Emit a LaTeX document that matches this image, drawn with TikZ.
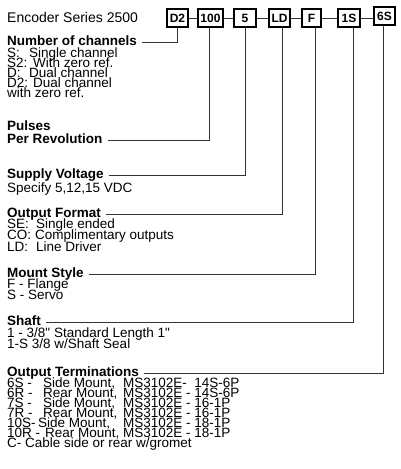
\documentclass[tikz,border=0pt]{standalone}
\usepackage{fontspec}
\setmainfont{Liberation Sans}[Ligatures=TeXOff]
\begin{document}
\begin{tikzpicture}
      [x=1pt,y=-1pt,
      code/.style={draw,line width=1.1pt,inner sep=0pt,minimum height=18pt,
        font=\fontsize{12}{12}\selectfont\bfseries},
      head/.style={anchor=base west,inner sep=0pt,text height=8.5pt,text depth=1pt,
        font=\fontsize{13.5}{13.5}\selectfont\bfseries},
      body/.style={anchor=base west,inner sep=0pt,text height=8pt,text depth=1pt,
        font=\fontsize{13.5}{13.5}\selectfont},
      link/.style={line width=0.8pt,black!80}]
      \useasboundingbox (0,0) rectangle (400,469);
      \node[body,font=\fontsize{14}{14}\selectfont] (title) at (7,22) {Encoder Series 2500};
      % order code boxes
      \node[code,minimum width=21pt] (d2) at (177.5,18) {D2};
      \node[code,minimum width=25pt] (ppr) at (210.5,18) {100};
      \node[code,minimum width=22pt] (volt) at (245,18) {5};
      \node[code,minimum width=21pt] (fmt) at (279.5,18) {LD};
      \node[code,minimum width=19pt] (mnt) at (311.5,18) {F};
      \node[code,minimum width=22pt] (shaft) at (349,18) {1S};
      \node[code,minimum width=21pt] (term) at (384.5,16) {6S};
      \draw[link] (d2) -- (ppr);
      \draw[link] (ppr) -- (volt);
      \draw[link] (volt) -- (fmt);
      \draw[link] (fmt) -- (mnt);
      \draw[link] (mnt) -- (shaft);
      \draw[link] (shaft.east) -- (shaft.east -| term.west);
      % headings
      \node[head] (chan) at (7,45) {Number of channels};
      \node[head] (pulses) at (7,130) {Pulses};
      \node[head] (rev) at (7,143) {Per Revolution};
      \node[head] (supply) at (7,178) {Supply Voltage};
      \node[head] (output) at (7,217) {Output Format};
      \node[head] (mount) at (7,277) {Mount Style};
      \node[head] (shafthd) at (7,325) {Shaft};
      \node[head] (termhd) at (7,376) {Output Terminations};
      % option lists
      \foreach \txt [count=\i] in {{\makebox[22pt][l]{S:}Single channel},
        {\makebox[26pt][l]{S2:}With zero ref.},
        {\makebox[22pt][l]{D:}Dual channel},
        {\makebox[26pt][l]{D2:}Dual channel},
        {with zero ref.}}
        \node[body] (chan-\i) at (7,47+10*\i) {\txt};
      \node[body] (supply-1) at (7,192) {Specify 5,12,15 VDC};
      \foreach \txt [count=\i] in {{\makebox[29pt][l]{SE:}Single ended},
        {\makebox[28pt][l]{CO:}Complimentary outputs},
        {\makebox[29pt][l]{LD:}Line Driver}}
        \node[body] (output-\i) at (7,216.5+11.5*\i) {\txt};
      \foreach \txt [count=\i] in {{F - Flange},{S - Servo}}
        \node[body] (mount-\i) at (7,277+11*\i) {\txt};
      \foreach \txt [count=\i] in {{1 - 3/8" Standard Length 1"},
        {1-S 3/8 w/Shaft Seal}}
        \node[body] (shaft-\i) at (7,326+11*\i) {\txt};
      \foreach \txt [count=\i] in {
        {\makebox[36pt][l]{6S -}\makebox[80pt][l]{Side Mount,}MS3102E-\ \ 14S-6P},
        {\makebox[36pt][l]{6R -}\makebox[80pt][l]{Rear Mount,}MS3102E - 14S-6P},
        {\makebox[36pt][l]{7S -}\makebox[80pt][l]{Side Mount,}MS3102E - 16-1P},
        {\makebox[36pt][l]{7R -}\makebox[80pt][l]{Rear Mount,}MS3102E - 16-1P},
        {\makebox[31pt][l]{10S-}\makebox[85pt][l]{Side Mount,}MS3102E - 18-1P},
        {\makebox[38pt][l]{10R -}\makebox[78pt][l]{Rear Mount,}MS3102E - 18-1P},
        {C- Cable side or rear w/gromet}}
        \node[body] (term-\i) at (7,377+10*\i) {\txt};
      % leader lines
      \draw[link] (d2.south) |- ([xshift=5pt,yshift=3pt]chan.base east);
      \draw[link] ([xshift=-1.5pt]ppr.south) |- ([xshift=5pt,yshift=3pt]rev.base east);
      \draw[link] (volt.south) |- ([xshift=5pt,yshift=3pt]supply.base east);
      \draw[link] ([xshift=2.5pt]fmt.south) |- ([xshift=5pt,yshift=3pt]output.base east);
      \draw[link] ([xshift=3.5pt]mnt.south) |- ([xshift=5pt,yshift=3pt]mount.base east);
      \draw[link] ([xshift=4pt]shaft.south) |- ([xshift=5pt,yshift=3pt]shafthd.base east);
      \draw[link] ([xshift=-1.5pt]term.south) |- ([xshift=5pt,yshift=3pt]termhd.base east);
    \end{tikzpicture}
\end{document}
